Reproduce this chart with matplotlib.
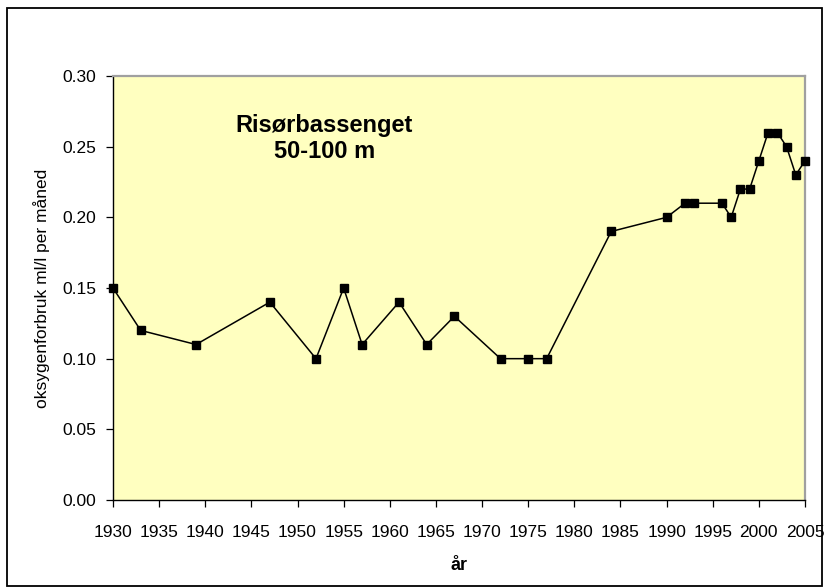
import matplotlib
matplotlib.use("Agg")
import matplotlib.pyplot as plt
from matplotlib.patches import Rectangle

# data
years = [1930, 1933, 1939, 1947, 1952, 1955, 1957, 1961, 1964, 1967,
         1972, 1975, 1977, 1984, 1990, 1992, 1993, 1996, 1997, 1998,
         1999, 2000, 2001, 2002, 2003, 2004, 2005]
oxygen = [0.15, 0.12, 0.11, 0.14, 0.10, 0.15, 0.11, 0.14, 0.11, 0.13,
          0.10, 0.10, 0.10, 0.19, 0.20, 0.21, 0.21, 0.21, 0.20, 0.22,
          0.22, 0.24, 0.26, 0.26, 0.25, 0.23, 0.24]
xticks = list(range(1930, 2006, 5))
yticks = [0.00, 0.05, 0.10, 0.15, 0.20, 0.25, 0.30]

plt.rcParams['font.family'] = ['Liberation Sans', 'DejaVu Sans']

W, H = 824, 587
fig = plt.figure(figsize=(W / 100, H / 100), dpi=100)
# plot area in pixels: left 113, right 805, top 76, bottom 500
ax = fig.add_axes([113 / W, 1 - 500 / H, (805 - 113) / W, (500 - 76) / H])

# outer chart border
fig.patches.append(Rectangle((7 / W, 1 / H), 815 / W, 578 / H,
                             transform=fig.transFigure, fill=False,
                             edgecolor='black', linewidth=1.3))

ax.set_facecolor('#FFFFC0')
ax.plot(years, oxygen, color='black', linewidth=1.1, marker='s',
        markersize=5.2, markerfacecolor='black', clip_on=False, zorder=3)

ax.set_xlim(1930, 2005)
ax.set_ylim(0, 0.30)
ax.set_xticks(xticks)
ax.set_xticklabels([str(x) for x in xticks])
ax.set_yticks(yticks)
ax.set_yticklabels([f"{y:.2f}" for y in yticks])
ax.tick_params(axis='both', labelsize=12.5, direction='out', length=5, width=0.9)
ax.tick_params(axis='x', pad=13)
ax.tick_params(axis='y', pad=7)

for side in ['top', 'right']:
    ax.spines[side].set_color('#A0A0A0')
    ax.spines[side].set_linewidth(1.6)
for side in ['left', 'bottom']:
    ax.spines[side].set_color('black')
    ax.spines[side].set_linewidth(1.0)

ax.set_xlabel('år', fontsize=13, fontweight='bold', labelpad=12)
ax.set_ylabel('oksygenforbruk ml/l per måned', fontsize=12.5, labelpad=9)

ax.text(1952.9, 0.256, 'Risørbassenget\n50-100 m', ha='center', va='center',
        fontsize=17, fontweight='bold', linespacing=1.15)

fig.savefig('out.png', dpi=100)
